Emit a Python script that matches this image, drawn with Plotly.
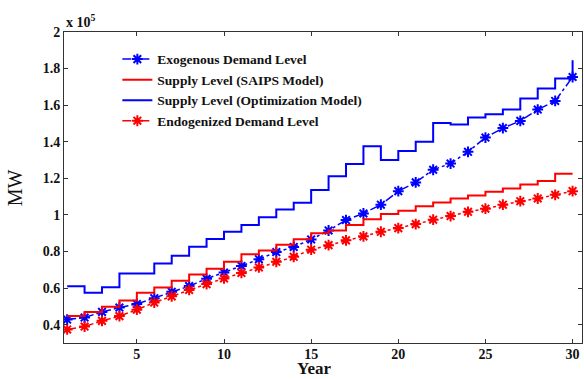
import plotly.graph_objects as go

years = list(range(1, 31))

exogenous_demand = [0.428, 0.439, 0.470, 0.494, 0.513, 0.545, 0.580, 0.611, 0.651, 0.685,
                    0.721, 0.758, 0.797, 0.825, 0.866, 0.915, 0.972, 1.008, 1.056, 1.130,
                    1.178, 1.247, 1.281, 1.345, 1.423, 1.475, 1.514, 1.576, 1.623, 1.754]

supply_saips = [0.447, 0.470, 0.498, 0.532, 0.575, 0.603, 0.640, 0.675, 0.706, 0.744,
                0.785, 0.806, 0.837, 0.867, 0.900, 0.915, 0.945, 0.976, 1.005, 1.023,
                1.048, 1.068, 1.090, 1.106, 1.127, 1.145, 1.167, 1.185, 1.225, 1.225]

supply_opt = [0.610, 0.575, 0.605, 0.680, 0.680, 0.735, 0.777, 0.826, 0.868, 0.908,
              0.945, 0.987, 1.030, 1.066, 1.136, 1.212, 1.278, 1.376, 1.300, 1.350,
              1.400, 1.503, 1.494, 1.533, 1.551, 1.576, 1.636, 1.691, 1.746, 1.846]

endogenized_demand = [0.374, 0.390, 0.421, 0.447, 0.482, 0.521, 0.555, 0.590, 0.622, 0.653,
                      0.683, 0.713, 0.744, 0.771, 0.810, 0.835, 0.861, 0.883, 0.908, 0.928,
                      0.950, 0.974, 0.994, 1.017, 1.034, 1.056, 1.075, 1.090, 1.110, 1.130]

y_ticks = [0.4, 0.6, 0.8, 1.0, 1.2, 1.4, 1.6, 1.8, 2.0]
x_ticks = [5, 10, 15, 20, 25, 30]

BLUE = "#0000FF"
RED = "#FF0000"
FONT = "Liberation Serif"

fig = go.Figure()

fig.add_trace(go.Scatter(
    x=years, y=exogenous_demand, mode="lines+markers",
    name="Exogenous Demand Level",
    line=dict(color=BLUE, width=1.5, dash="dashdot"),
    marker=dict(symbol="asterisk", size=9, color=BLUE, line=dict(color=BLUE, width=2)),
))
fig.add_trace(go.Scatter(
    x=years, y=supply_saips, mode="lines",
    name="Supply Level (SAIPS Model)",
    line=dict(color=RED, width=2, shape="hv"),
))
fig.add_trace(go.Scatter(
    x=years, y=supply_opt, mode="lines",
    name="Supply Level (Optimization Model)",
    line=dict(color=BLUE, width=2, shape="hv"),
))
fig.add_trace(go.Scatter(
    x=years, y=endogenized_demand, mode="lines+markers",
    name="Endogenized Demand Level",
    line=dict(color=RED, width=1.5, dash="dashdot"),
    marker=dict(symbol="asterisk", size=9, color=RED, line=dict(color=RED, width=2)),
))

axis_common = dict(
    showgrid=False, zeroline=False, showline=True, linecolor="#333333", linewidth=1,
    mirror="ticks", ticks="inside", ticklen=4, tickcolor="#333333",
    tickfont=dict(family=FONT, size=14, color="#111111", weight="bold"),
)

fig.update_xaxes(range=[0.82, 30.54], tickvals=x_ticks, ticklabelstandoff=-2, **axis_common)
fig.update_yaxes(range=[0.3, 2.0], tickvals=y_ticks, **axis_common)

fig.update_layout(
    width=584, height=379,
    margin=dict(l=64, r=2, t=32, b=36),
    paper_bgcolor="white", plot_bgcolor="white",
    showlegend=True,
    legend=dict(
        x=0.103, y=0.962, xanchor="left", yanchor="top",
        bgcolor="rgba(255,255,255,0)", borderwidth=0,
        font=dict(family=FONT, size=13.5, color="#111111", weight="bold"),
        tracegroupgap=0,
    ),
    annotations=[
        dict(text="x 10<sup>5</sup>", xref="paper", yref="paper", x=0, y=1.0,
             xanchor="left", yanchor="bottom", showarrow=False,
             font=dict(family=FONT, size=14, color="#111111", weight="bold")),
        dict(text="MW", xref="paper", yref="paper", x=-0.095, y=0.5, textangle=-90,
             xanchor="center", yanchor="middle", showarrow=False,
             font=dict(family=FONT, size=20, color="#111111")),
        dict(text="Year", xref="paper", yref="paper", x=0.483, y=-0.1157,
             xanchor="center", yanchor="bottom", showarrow=False, borderpad=0,
             font=dict(family=FONT, size=17, color="#111111", weight="bold")),
    ],
)

fig.write_html(
    "out.html",
    config={"displayModeBar": False},
    post_script="document.body.style.margin='0';document.body.style.overflow='hidden';",
)
